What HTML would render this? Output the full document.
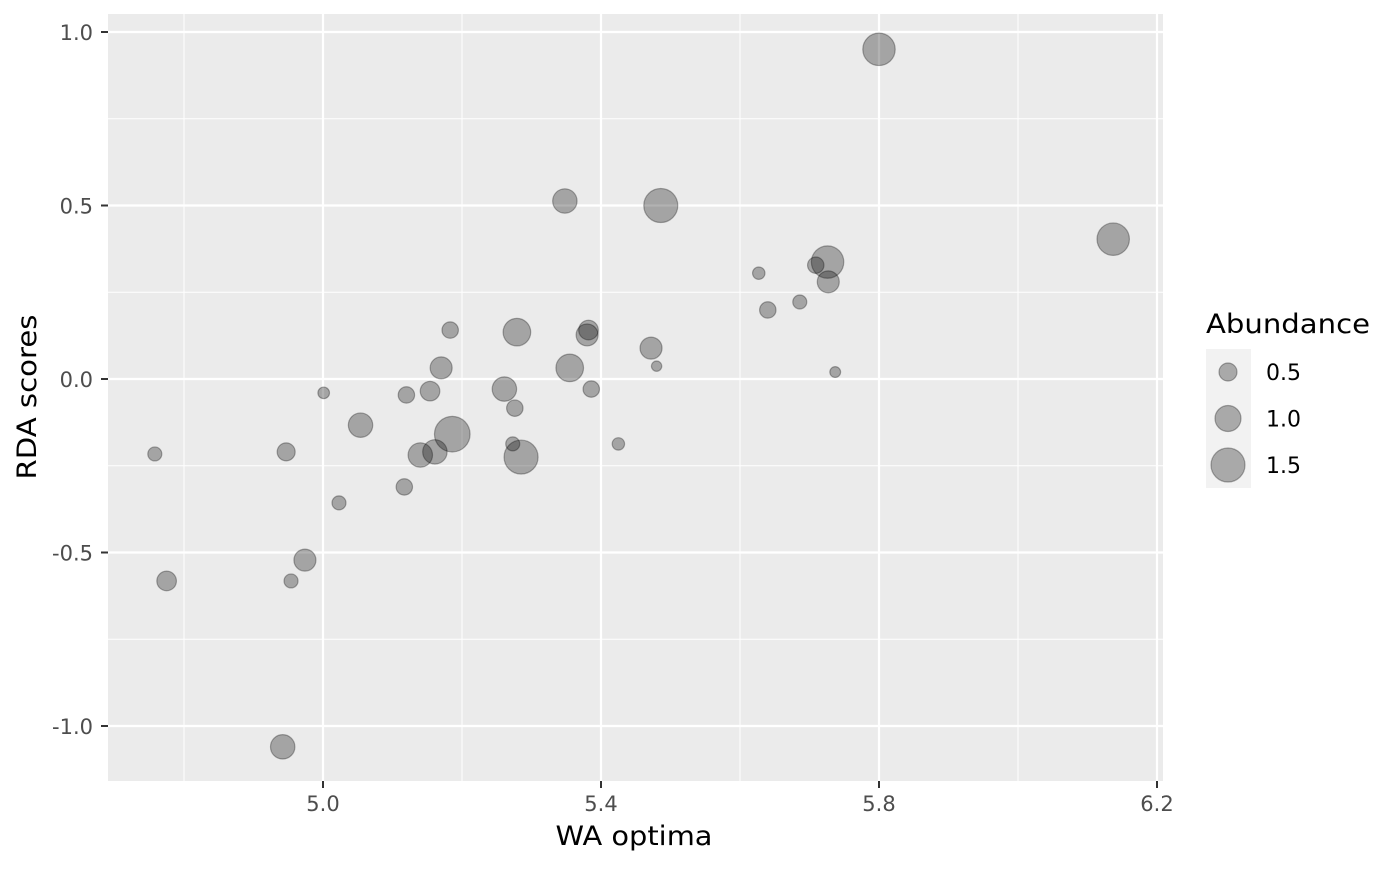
<!DOCTYPE html>
<html><head><meta charset="utf-8"><style>
body{margin:0;background:#fff;font-family:"DejaVu Sans","Liberation Sans",sans-serif}
svg text{font-family:"DejaVu Sans","Liberation Sans",sans-serif}
</style></head><body>
<svg id="chart" width="1400" height="866" xmlns="http://www.w3.org/2000/svg">
<rect x="108" y="14" width="1055" height="767" fill="#ebebeb"/>
<g id="grid"></g><g id="pts"></g><g id="axes"></g>
<text x="634" y="845" font-size="27" text-anchor="middle" textLength="157" lengthAdjust="spacingAndGlyphs" fill="#000">WA optima</text>
<text transform="translate(36,397) rotate(-90)" font-size="27" text-anchor="middle" textLength="165" lengthAdjust="spacingAndGlyphs" fill="#000">RDA scores</text>
<g>
<text x="1206" y="333" font-size="27" textLength="164" lengthAdjust="spacingAndGlyphs" fill="#000">Abundance</text>
<rect x="1206" y="349" width="45" height="139" fill="#f2f2f2"/>
<g id="leg"></g>
</g>
</svg>
<script>
const xs=[5.80,6.137,5.486,5.348,5.726,5.709,5.627,5.727,5.686,5.640,5.472,5.480,5.737,5.279,5.382,5.38,5.355,5.386,5.183,5.170,5.261,5.276,5.154,5.120,5.001,5.054,5.186,5.285,5.273,5.140,5.161,5.425,4.947,4.758,5.117,5.023,4.974,4.775,4.954,4.942];
const ys=[0.95,0.403,0.50,0.513,0.337,0.328,0.305,0.28,0.222,0.199,0.089,0.037,0.02,0.135,0.141,0.127,0.032,-0.029,0.141,0.032,-0.029,-0.084,-0.035,-0.046,-0.04,-0.133,-0.159,-0.225,-0.187,-0.219,-0.21,-0.187,-0.21,-0.216,-0.311,-0.357,-0.522,-0.582,-0.582,-1.06];
const abund=[1.4,1.4,1.5,0.9,1.4,0.4,0.15,0.75,0.25,0.4,0.75,0.02,0.05,1.1,0.6,0.75,1.1,0.4,0.4,0.75,0.9,0.4,0.6,0.4,0.1,0.9,1.6,1.5,0.25,0.9,0.9,0.15,0.5,0.25,0.4,0.25,0.75,0.6,0.25,0.9];
const xTicks=[5.0,5.4,5.8,6.2];
const xTickLabels=["5.0","5.4","5.8","6.2"];
const xMinor=[4.8,5.2,5.6,6.0];
const yTicks=[1.0,0.5,0.0,-0.5,-1.0];
const yTickLabels=["1.0","0.5","0.0","-0.5","-1.0"];
const yMinor=[0.75,0.25,-0.25,-0.75];
const legVals=[0.5,1.0,1.5];
const legLabels=["0.5","1.0","1.5"];
const X=v=>323+(v-5.0)*695, Y=v=>379-v*347, R=v=>5+8*v;
const NS="http://www.w3.org/2000/svg";
function mk(p,t,a){const e=document.createElementNS(NS,t);for(const k in a)e.setAttribute(k,a[k]);document.getElementById(p).appendChild(e);return e;}
xMinor.forEach(v=>{const e=mk('grid','line',{x1:X(v),x2:X(v),y1:14,y2:781,stroke:'#fff','stroke-width':1});

});
yMinor.forEach(v=>{const e=mk('grid','line',{x1:108,x2:1163,y1:Y(v),y2:Y(v),stroke:'#fff','stroke-width':1});

});
xTicks.forEach((v,i)=>{const e=mk('grid','line',{x1:X(v),x2:X(v),y1:14,y2:781,stroke:'#fff','stroke-width':2.2});


const t=mk('axes','line',{x1:X(v),x2:X(v),y1:781,y2:788,stroke:'#333','stroke-width':2});


const l=mk('axes','text',{x:X(v),y:811,'font-size':21,'text-anchor':'middle',fill:'#4d4d4d'});l.textContent=xTickLabels[i];

});
yTicks.forEach((v,i)=>{const e=mk('grid','line',{x1:108,x2:1163,y1:Y(v),y2:Y(v),stroke:'#fff','stroke-width':2.2});


const t=mk('axes','line',{x1:101,x2:108,y1:Y(v),y2:Y(v),stroke:'#333','stroke-width':2});


const l=mk('axes','text',{x:93,y:Y(v)+8,'font-size':21,'text-anchor':'end',fill:'#4d4d4d'});l.textContent=yTickLabels[i];

});
xs.forEach((v,i)=>{const c=mk('pts','circle',{cx:X(v),cy:Y(ys[i]),r:R(abund[i]),fill:'rgba(0,0,0,0.3)',stroke:'rgba(0,0,0,0.3)','stroke-width':1.2});

});
legVals.forEach((v,i)=>{const cy=372+i*46.5;
const c=mk('leg','circle',{cx:1228,cy:cy,r:R(v),fill:'rgba(0,0,0,0.3)',stroke:'rgba(0,0,0,0.3)','stroke-width':1.2});


const t=mk('leg','text',{x:1266,y:cy+8,'font-size':22,fill:'#000'});t.textContent=legLabels[i];

});
</script>
</body></html>
